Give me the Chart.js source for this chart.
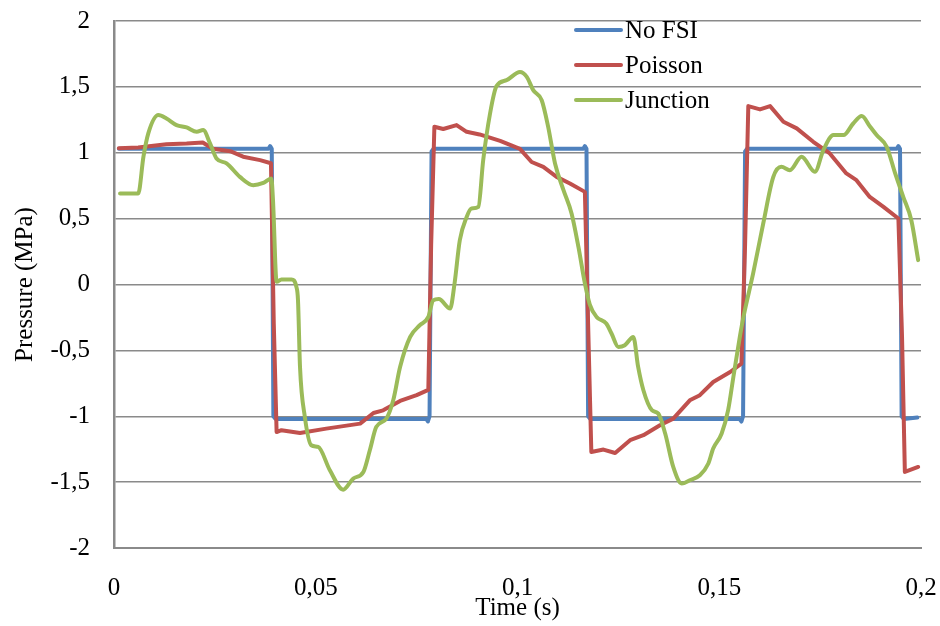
<!DOCTYPE html>
<html>
<head>
<meta charset="utf-8">
<script src="https://cdn.jsdelivr.net/npm/chart.js@4.4.1/dist/chart.umd.min.js"></script>
<style>
  html, body { margin: 0; padding: 0; background: #ffffff; }
  #wrap { width: 940px; height: 626px; position: relative; }
</style>
</head>
<body>
<div id="wrap"><canvas id="c" width="940" height="626"></canvas></div>
<script>
// ---------- data ----------
const seriesNames = ["No FSI", "Poisson", "Junction"];
const xTickLabels = ["0", "0,05", "0,1", "0,15", "0,2"];
const yTickLabels = ["-2", "-1,5", "-1", "-0,5", "0", "0,5", "1", "1,5", "2"];

const noFsiTime = [0.0012, 0.0383, 0.0387, 0.0391, 0.0395, 0.0400,
  0.0774, 0.0778, 0.0782, 0.0787, 0.0792,
  0.1163, 0.1167, 0.1171, 0.1175, 0.1180,
  0.1550, 0.1555, 0.1559, 0.1564, 0.1569,
  0.1940, 0.1944, 0.1948, 0.1952, 0.1957, 0.1991];
const noFsiPressure = [1.03, 1.03, 1.05, 1.03, -1.0, -1.02,
  -1.02, -1.04, -1.0, 1.01, 1.03,
  1.03, 1.05, 1.03, -1.0, -1.02,
  -1.02, -1.04, -1.0, 1.01, 1.03,
  1.03, 1.05, 1.03, -1.0, -1.02, -1.01];

const poissonTime = [0.0012, 0.006, 0.013, 0.018, 0.022, 0.0245, 0.0288, 0.032, 0.0362, 0.0389,
  0.0396, 0.0403, 0.0415, 0.0461, 0.0526, 0.061, 0.0643, 0.0667, 0.0709, 0.075, 0.0779,
  0.0786, 0.0794, 0.0816, 0.0849, 0.0874, 0.0906, 0.0957, 0.1006, 0.1035, 0.1064, 0.1097, 0.113, 0.1167,
  0.1175, 0.1183, 0.1213, 0.1242, 0.1279, 0.1312, 0.1353, 0.1386, 0.1427, 0.1452, 0.1485, 0.1527, 0.1555,
  0.1564, 0.1572, 0.1601, 0.1626, 0.1659, 0.1692, 0.1733, 0.1774, 0.1815, 0.184, 0.1873, 0.1907, 0.1944,
  0.1953, 0.196, 0.1993];
const poissonPressure = [1.035, 1.04, 1.065, 1.07, 1.078, 1.03, 1.012, 0.97, 0.944, 0.92,
  -0.3, -1.12, -1.106, -1.127, -1.094, -1.056, -0.975, -0.955, -0.884, -0.84, -0.80,
  0.3, 1.197, 1.18, 1.21, 1.159, 1.139, 1.09, 1.03, 0.93, 0.893, 0.817, 0.767, 0.703,
  -0.3, -1.271, -1.253, -1.279, -1.182, -1.144, -1.068, -1.018, -0.879, -0.84, -0.74, -0.664, -0.60,
  0.3, 1.354, 1.329, 1.354, 1.235, 1.185, 1.083, 0.995, 0.843, 0.792, 0.665, 0.589, 0.501,
  -0.4, -1.423, -1.385];

const junctionTime = [0.0015, 0.006, 0.0073, 0.0085, 0.011, 0.013, 0.0155, 0.018, 0.0205, 0.0221,
  0.0238, 0.0254, 0.0279, 0.0312, 0.0345, 0.037, 0.039, 0.0394, 0.0403, 0.0415, 0.044, 0.0452,
  0.0456, 0.0461, 0.0473, 0.0489, 0.0506, 0.0535, 0.0568, 0.0593, 0.0618, 0.0634, 0.065, 0.0675,
  0.0692, 0.0709, 0.0734, 0.0758, 0.0779, 0.0791, 0.0805, 0.0833, 0.0844, 0.0857, 0.0874, 0.0886,
  0.0903, 0.0915, 0.0932, 0.0948, 0.0973, 0.1006, 0.1023, 0.1039, 0.106, 0.1076, 0.1093, 0.1114,
  0.1134, 0.1151, 0.1167, 0.1179, 0.1196, 0.122, 0.1233, 0.125, 0.1266, 0.1287, 0.1299, 0.1312,
  0.1333, 0.1349, 0.1366, 0.1386, 0.1407, 0.1427, 0.1452, 0.1473, 0.1485, 0.1506, 0.1522, 0.1535,
  0.1551, 0.156, 0.1584, 0.1609, 0.1634, 0.1654, 0.1675, 0.1704, 0.1737, 0.1758, 0.1783, 0.1808,
  0.1832, 0.1853, 0.1874, 0.189, 0.1915, 0.1936, 0.1956, 0.1976, 0.1993];
const junctionPressure = [0.69, 0.69, 0.97, 1.147, 1.286, 1.26, 1.21, 1.192, 1.159, 1.172,
  1.071, 0.957, 0.919, 0.817, 0.754, 0.771, 0.805, 0.64, 0.02, 0.038, 0.038, -0.018,
  -0.12, -0.626, -1.005, -1.22, -1.233, -1.41, -1.557, -1.473, -1.423, -1.258, -1.081, -1.018,
  -0.879, -0.626, -0.398, -0.309, -0.246, -0.12, -0.11, -0.182, 0.008, 0.336, 0.513, 0.577,
  0.589, 0.944, 1.298, 1.506, 1.551, 1.612, 1.576, 1.475, 1.399, 1.197, 0.919, 0.716,
  0.539, 0.285, 0.008, -0.15, -0.246, -0.296, -0.372, -0.474, -0.461, -0.398, -0.626, -0.803,
  -0.954, -0.98, -1.131, -1.385, -1.511, -1.486, -1.448, -1.359, -1.245, -1.131, -0.954, -0.702,
  -0.398, -0.246, 0.084, 0.463, 0.817, 0.893, 0.868, 0.969, 0.855, 1.02, 1.134, 1.134,
  1.222, 1.278, 1.197, 1.134, 1.045, 0.843, 0.665, 0.488, 0.185];

// ---------- build ----------
function pts(ts, ps) { return ts.map((t, i) => ({ x: t, y: ps[i] })); }
const colors = ["#4F81BD", "#C0504D", "#9BBB59"];
const FONT = "'Liberation Serif', 'Times New Roman', serif";
const FS = 25;
const gridColor = "#8a8a8a";

const customLegend = {
  id: "customLegend",
  afterDraw(chart) {
    const ctx = chart.ctx;
    ctx.save();
    ctx.font = FS + "px " + FONT;
    ctx.textBaseline = "middle";
    ctx.textAlign = "left";
    const x0 = 576, x1 = 621, tx = 625;
    const rows = [30, 65, 100];
    [0, 1, 2].forEach((di, k) => {
      const ds = chart.data.datasets[di];
      ctx.strokeStyle = ds.borderColor;
      ctx.lineWidth = 4;
      ctx.lineCap = "round";
      ctx.beginPath();
      ctx.moveTo(x0, rows[k]);
      ctx.lineTo(x1, rows[k]);
      ctx.stroke();
      ctx.fillStyle = "#000";
      ctx.fillText(ds.label, tx, rows[k] + 1);
    });
    ctx.restore();
  }
};

new Chart(document.getElementById("c"), {
  type: "line",
  data: {
    datasets: [
      { label: seriesNames[0], data: pts(noFsiTime, noFsiPressure), borderColor: colors[0], order: 2, tension: 0 },
      { label: seriesNames[1], data: pts(poissonTime, poissonPressure), borderColor: colors[1], order: 1, tension: 0 },
      { label: seriesNames[2], data: pts(junctionTime, junctionPressure), borderColor: colors[2], order: 0, cubicInterpolationMode: "monotone" }
    ]
  },
  options: {
    responsive: false,
    animation: false,
    devicePixelRatio: 1,
    elements: {
      point: { radius: 0, hoverRadius: 0 },
      line: { borderWidth: 4, borderCapStyle: "round", borderJoinStyle: "round", fill: false }
    },
    layout: { padding: { left: 0, right: 19, top: 21, bottom: 0 } },
    plugins: {
      legend: { display: false },
      tooltip: { enabled: false }
    },
    scales: {
      x: {
        type: "linear",
        min: 0, max: 0.2,
        afterFit(s) { s.height = 78; },
        afterBuildTicks(s) { s.ticks = xTickLabels.map((_, i) => ({ value: i * 0.05 })); },
        ticks: {
          callback: (v, i) => xTickLabels[i],
          font: { family: FONT, size: FS },
          color: "#000",
          padding: 0,
          maxRotation: 0,
          autoSkip: false
        },
        grid: { display: false, drawTicks: true, tickLength: 25, tickColor: "rgba(0,0,0,0)" },
        border: { display: true, color: gridColor, width: 2 },
        title: {
          display: true, text: "Time (s)",
          font: { family: FONT, size: FS }, color: "#000",
          padding: { top: 0, bottom: 3 }
        }
      },
      y: {
        type: "linear",
        min: -2, max: 2,
        afterFit(s) { s.width = 114; },
        afterBuildTicks(s) { s.ticks = yTickLabels.map((_, i) => ({ value: -2 + i * 0.5 })); },
        ticks: {
          callback: (v, i) => yTickLabels[i],
          font: { family: FONT, size: FS },
          color: "#000",
          padding: 0,
          autoSkip: false
        },
        grid: { color: gridColor, lineWidth: 1.5, drawTicks: true, tickLength: 24, tickColor: "rgba(0,0,0,0)" },
        border: { display: true, color: gridColor, width: 2.5 },
        title: {
          display: true, text: "Pressure (MPa)",
          font: { family: FONT, size: FS }, color: "#000",
          padding: { top: 10, bottom: 0 }
        }
      }
    }
  },
  plugins: [customLegend]
});
</script>
</body>
</html>
